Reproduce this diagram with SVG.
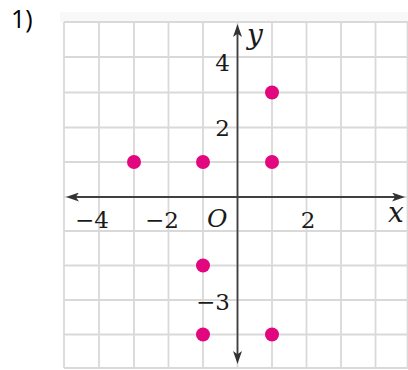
<svg xmlns="http://www.w3.org/2000/svg" width="408" height="370" viewBox="0 0 408 370">
  <style>
    .grid line { stroke: #d9d9d9; stroke-width: 1.8; }
    .axis { stroke: #404040; stroke-width: 1.8; fill: none; }
    .num { font-family: "DejaVu Serif", "Liberation Serif", serif; font-size: 23px; fill: #1a1a1a; }
    .var { font-family: "DejaVu Serif", "Liberation Serif", serif; font-style: italic; fill: #1a1a1a; }
    .pt { fill: #e2067f; }
    .title { font-family: "Open Sans", "Noto Sans", sans-serif; font-size: 25px; fill: #000; }
  </style>
  <defs>
    <marker id="arrow" viewBox="0 0 13 9" refX="9" refY="4.5" markerWidth="13" markerHeight="9" markerUnits="userSpaceOnUse" orient="auto-start-reverse">
      <path d="M0,0 L13,4.5 L0,9 L3.2,4.5 Z" fill="#333"/>
    </marker>
  </defs>
  <rect x="0" y="0" width="408" height="370" fill="#fff"/>
  <rect x="60" y="12" width="348" height="10" fill="#f8f8f8"/>
  <text id="label-1" class="title" x="11" y="28">1)</text>

  <g id="grid" class="grid">
    <line x1="64" y1="22" x2="64" y2="368"/>
    <line x1="99" y1="22" x2="99" y2="368"/>
    <line x1="134" y1="22" x2="134" y2="368"/>
    <line x1="168.5" y1="22" x2="168.5" y2="368"/>
    <line x1="203" y1="22" x2="203" y2="368"/>
    <line x1="237.5" y1="22" x2="237.5" y2="368"/>
    <line x1="272" y1="22" x2="272" y2="368"/>
    <line x1="306.5" y1="22" x2="306.5" y2="368"/>
    <line x1="341" y1="22" x2="341" y2="368"/>
    <line x1="375.5" y1="22" x2="375.5" y2="368"/>
    <line x1="407.5" y1="22" x2="407.5" y2="368"/>
    <line x1="64" y1="22" x2="408" y2="22"/>
    <line x1="64" y1="57" x2="408" y2="57"/>
    <line x1="64" y1="92.5" x2="408" y2="92.5"/>
    <line x1="64" y1="127.5" x2="408" y2="127.5"/>
    <line x1="64" y1="162" x2="408" y2="162"/>
    <line x1="64" y1="197" x2="408" y2="197"/>
    <line x1="64" y1="231" x2="408" y2="231"/>
    <line x1="64" y1="265.5" x2="408" y2="265.5"/>
    <line x1="64" y1="300" x2="408" y2="300"/>
    <line x1="64" y1="334.5" x2="408" y2="334.5"/>
    <line x1="64" y1="368" x2="408" y2="368"/>
  </g>

  <g id="connectors">
    <line id="x-axis" class="axis" x1="70" y1="197" x2="401" y2="197" marker-start="url(#arrow)" marker-end="url(#arrow)"/>
    <line id="y-axis" class="axis" x1="237.5" y1="28" x2="237.5" y2="360" marker-start="url(#arrow)" marker-end="url(#arrow)"/>
  </g>

  <g id="axis-labels">
    <text class="num" x="75" y="228">−4</text>
    <text class="num" x="145" y="228">−2</text>
    <text class="var" x="207" y="227" font-size="25">O</text>
    <text class="num" x="308" y="228" text-anchor="middle">2</text>
    <text class="var" x="388" y="222" font-size="28">x</text>
    <text class="num" x="222.5" y="71" text-anchor="middle">4</text>
    <text class="num" x="222.5" y="136" text-anchor="middle">2</text>
    <text class="var" x="247" y="44" font-size="28">y</text>
    <text class="num" x="196" y="310">−3</text>
  </g>

  <g id="points">
    <circle id="p-3-1" class="pt" cx="134" cy="162" r="7"/>
    <circle id="p-1-1" class="pt" cx="203" cy="162" r="7"/>
    <circle id="p1-3" class="pt" cx="272" cy="92.5" r="7"/>
    <circle id="p1-1" class="pt" cx="272" cy="162" r="7"/>
    <circle id="p-1-m2" class="pt" cx="203" cy="265.5" r="7"/>
    <circle id="p-1-m4" class="pt" cx="203" cy="334.5" r="7"/>
    <circle id="p1-m4" class="pt" cx="272" cy="334.5" r="7"/>
  </g>
</svg>
